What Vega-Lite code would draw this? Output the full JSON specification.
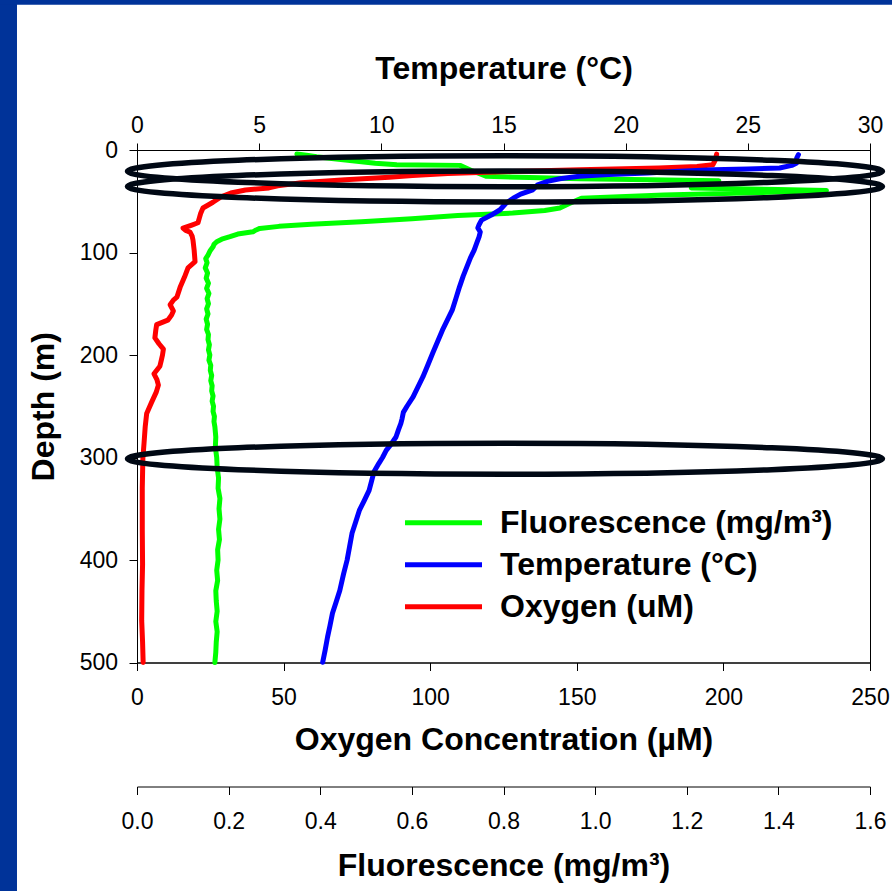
{
  "$schema": "https://vega.github.io/schema/vega-lite/v6.json",
  "width": 733,
  "height": 512.5,
  "autosize": {"type": "none"},
  "padding": {"left": 137, "top": 150, "right": 22, "bottom": 228.5},
  "background": "white",
  "config": {
    "font": "Liberation Sans",
    "view": {"stroke": "black", "strokeWidth": 1},
    "axis": {
      "domainColor": "black", "tickColor": "black", "labelColor": "black", "titleColor": "black",
      "labelFont": "Liberation Sans", "titleFont": "Liberation Sans",
      "labelFontSize": 23, "titleFontSize": 32, "titleFontWeight": "bold",
      "tickSize": 8, "grid": false, "domainWidth": 1, "tickWidth": 1,
      "labelFlush": false, "labelOverlap": false
    },
    "legend": {
      "labelFont": "Liberation Sans", "labelFontSize": 32, "labelFontWeight": "bold", "labelColor": "black",
      "symbolType": "stroke", "symbolSize": 5929, "symbolStrokeWidth": 5, "clipHeight": 32,
      "rowPadding": 10, "labelOffset": 15.5, "padding": 0, "labelLimit": 600
    }
  },
  "datasets": {
    "oxy": [
      {"depth": 4, "oxygen": 197.7}, {"depth": 10, "oxygen": 197.2}, {"depth": 14.4, "oxygen": 196.4},
      {"depth": 16, "oxygen": 191}, {"depth": 17.5, "oxygen": 178}, {"depth": 19.2, "oxygen": 151},
      {"depth": 21, "oxygen": 128}, {"depth": 23, "oxygen": 106}, {"depth": 25, "oxygen": 94},
      {"depth": 26.7, "oxygen": 86}, {"depth": 29, "oxygen": 71}, {"depth": 32, "oxygen": 56},
      {"depth": 35, "oxygen": 48}, {"depth": 37, "oxygen": 45}, {"depth": 39, "oxygen": 37},
      {"depth": 42, "oxygen": 32}, {"depth": 46, "oxygen": 28.5}, {"depth": 51, "oxygen": 25.9},
      {"depth": 56.6, "oxygen": 22.5}, {"depth": 62, "oxygen": 21.7}, {"depth": 66, "oxygen": 21.3},
      {"depth": 71, "oxygen": 20.8}, {"depth": 73.2, "oxygen": 18.7}, {"depth": 76.2, "oxygen": 15.7},
      {"depth": 78.5, "oxygen": 16.6}, {"depth": 80.1, "oxygen": 18.1}, {"depth": 84, "oxygen": 18.8},
      {"depth": 88, "oxygen": 19.1}, {"depth": 98, "oxygen": 19.5}, {"depth": 109, "oxygen": 19.8},
      {"depth": 115, "oxygen": 17.4}, {"depth": 124, "oxygen": 16.2}, {"depth": 134, "oxygen": 14.7},
      {"depth": 143.6, "oxygen": 13.6}, {"depth": 146.5, "oxygen": 12.4}, {"depth": 151, "oxygen": 11.3},
      {"depth": 157, "oxygen": 12.4}, {"depth": 161, "oxygen": 11.8}, {"depth": 166, "oxygen": 10.5},
      {"depth": 170.4, "oxygen": 6.7}, {"depth": 176, "oxygen": 6.4}, {"depth": 183.3, "oxygen": 6.1},
      {"depth": 189, "oxygen": 7.5}, {"depth": 194.3, "oxygen": 9.0}, {"depth": 200, "oxygen": 8.7},
      {"depth": 205, "oxygen": 8.3}, {"depth": 211, "oxygen": 7.8}, {"depth": 218.3, "oxygen": 5.8},
      {"depth": 224, "oxygen": 6.8}, {"depth": 229.3, "oxygen": 7.3}, {"depth": 236, "oxygen": 6.6},
      {"depth": 246, "oxygen": 5.0}, {"depth": 257, "oxygen": 3.3}, {"depth": 270, "oxygen": 2.8},
      {"depth": 286, "oxygen": 2.4}, {"depth": 300.8, "oxygen": 2.0}, {"depth": 330, "oxygen": 1.8},
      {"depth": 370, "oxygen": 1.8}, {"depth": 404, "oxygen": 1.9}, {"depth": 430, "oxygen": 1.7},
      {"depth": 459, "oxygen": 1.6}, {"depth": 480, "oxygen": 1.9}, {"depth": 500, "oxygen": 2.1}
    ],
    "temp": [
      {"depth": 4.6, "temperature": 27.07}, {"depth": 8, "temperature": 27.0}, {"depth": 12.7, "temperature": 27.0},
      {"depth": 15, "temperature": 26.8}, {"depth": 17.6, "temperature": 26.3}, {"depth": 18.5, "temperature": 25.0},
      {"depth": 19.2, "temperature": 23.6}, {"depth": 21, "temperature": 22.0}, {"depth": 22.5, "temperature": 20.9},
      {"depth": 24, "temperature": 19.3}, {"depth": 25.7, "temperature": 18.1}, {"depth": 28, "temperature": 17.3},
      {"depth": 30.6, "temperature": 16.8}, {"depth": 34, "temperature": 16.4}, {"depth": 38.8, "temperature": 16.2},
      {"depth": 43, "temperature": 15.7}, {"depth": 47, "temperature": 15.4}, {"depth": 52, "temperature": 15.1},
      {"depth": 58.3, "temperature": 14.86}, {"depth": 63.5, "temperature": 14.5}, {"depth": 68.4, "temperature": 14.1},
      {"depth": 72.9, "temperature": 14.0}, {"depth": 76, "temperature": 13.95}, {"depth": 80, "temperature": 14.05},
      {"depth": 84.7, "temperature": 14.0}, {"depth": 91, "temperature": 13.9}, {"depth": 97.7, "temperature": 13.8},
      {"depth": 105, "temperature": 13.65}, {"depth": 114, "temperature": 13.5}, {"depth": 123, "temperature": 13.35},
      {"depth": 133.5, "temperature": 13.2}, {"depth": 145, "temperature": 13.05}, {"depth": 156.3, "temperature": 12.9},
      {"depth": 166, "temperature": 12.7}, {"depth": 175.8, "temperature": 12.5}, {"depth": 187, "temperature": 12.3},
      {"depth": 198.3, "temperature": 12.1}, {"depth": 210, "temperature": 11.9}, {"depth": 221.4, "temperature": 11.7},
      {"depth": 231, "temperature": 11.5}, {"depth": 240.9, "temperature": 11.3}, {"depth": 250, "temperature": 11.05},
      {"depth": 256, "temperature": 10.9}, {"depth": 262, "temperature": 10.85}, {"depth": 266.6, "temperature": 10.8},
      {"depth": 273, "temperature": 10.7}, {"depth": 280, "temperature": 10.6}, {"depth": 287, "temperature": 10.4},
      {"depth": 293, "temperature": 10.2}, {"depth": 300, "temperature": 10.05}, {"depth": 305.7, "temperature": 9.9},
      {"depth": 314, "temperature": 9.7}, {"depth": 323, "temperature": 9.6}, {"depth": 332, "temperature": 9.5},
      {"depth": 342, "temperature": 9.3}, {"depth": 351.6, "temperature": 9.1}, {"depth": 363, "temperature": 8.95},
      {"depth": 374, "temperature": 8.8}, {"depth": 387, "temperature": 8.7}, {"depth": 400, "temperature": 8.6},
      {"depth": 414, "temperature": 8.45}, {"depth": 429.7, "temperature": 8.3}, {"depth": 441, "temperature": 8.15},
      {"depth": 452, "temperature": 8.0}, {"depth": 464, "temperature": 7.9}, {"depth": 475, "temperature": 7.8},
      {"depth": 488, "temperature": 7.7}, {"depth": 499.7, "temperature": 7.6}
    ],
    "fluor": [
      {"depth": 3.9, "fluorescence": 0.349}, {"depth": 5, "fluorescence": 0.37}, {"depth": 6.5, "fluorescence": 0.392},
      {"depth": 8.5, "fluorescence": 0.43}, {"depth": 11, "fluorescence": 0.48}, {"depth": 13, "fluorescence": 0.52},
      {"depth": 14.4, "fluorescence": 0.567}, {"depth": 15, "fluorescence": 0.705}, {"depth": 20, "fluorescence": 0.73},
      {"depth": 25.7, "fluorescence": 0.763}, {"depth": 27, "fluorescence": 0.88}, {"depth": 28, "fluorescence": 0.967},
      {"depth": 30, "fluorescence": 1.27}, {"depth": 35, "fluorescence": 1.22}, {"depth": 37, "fluorescence": 1.21},
      {"depth": 38.5, "fluorescence": 1.4}, {"depth": 39.5, "fluorescence": 1.505}, {"depth": 41, "fluorescence": 1.4},
      {"depth": 44, "fluorescence": 1.15}, {"depth": 47, "fluorescence": 0.97}, {"depth": 52, "fluorescence": 0.945},
      {"depth": 56.6, "fluorescence": 0.923}, {"depth": 59, "fluorescence": 0.89}, {"depth": 61.5, "fluorescence": 0.82},
      {"depth": 64, "fluorescence": 0.7}, {"depth": 67, "fluorescence": 0.6}, {"depth": 70, "fluorescence": 0.49},
      {"depth": 72.5, "fluorescence": 0.38}, {"depth": 74.5, "fluorescence": 0.31}, {"depth": 76.5, "fluorescence": 0.268},
      {"depth": 78, "fluorescence": 0.26}, {"depth": 79.8, "fluorescence": 0.253}, {"depth": 82, "fluorescence": 0.22},
      {"depth": 84.6, "fluorescence": 0.203}, {"depth": 87, "fluorescence": 0.185}, {"depth": 89.5, "fluorescence": 0.174},
      {"depth": 92, "fluorescence": 0.168}, {"depth": 94.4, "fluorescence": 0.166}, {"depth": 98, "fluorescence": 0.16},
      {"depth": 102.5, "fluorescence": 0.155}, {"depth": 106, "fluorescence": 0.15}, {"depth": 110, "fluorescence": 0.153},
      {"depth": 115, "fluorescence": 0.149}, {"depth": 120, "fluorescence": 0.154}, {"depth": 125, "fluorescence": 0.151},
      {"depth": 130, "fluorescence": 0.156}, {"depth": 135, "fluorescence": 0.152}, {"depth": 140, "fluorescence": 0.157},
      {"depth": 145, "fluorescence": 0.153}, {"depth": 150, "fluorescence": 0.156}, {"depth": 155, "fluorescence": 0.152},
      {"depth": 160, "fluorescence": 0.155}, {"depth": 165, "fluorescence": 0.151}, {"depth": 170, "fluorescence": 0.154},
      {"depth": 175, "fluorescence": 0.152}, {"depth": 180, "fluorescence": 0.156}, {"depth": 185, "fluorescence": 0.155},
      {"depth": 190, "fluorescence": 0.158}, {"depth": 195, "fluorescence": 0.156}, {"depth": 200, "fluorescence": 0.159},
      {"depth": 205, "fluorescence": 0.157}, {"depth": 210, "fluorescence": 0.161}, {"depth": 215, "fluorescence": 0.16},
      {"depth": 220, "fluorescence": 0.163}, {"depth": 225, "fluorescence": 0.161}, {"depth": 230, "fluorescence": 0.164},
      {"depth": 235, "fluorescence": 0.163}, {"depth": 240, "fluorescence": 0.166}, {"depth": 245, "fluorescence": 0.164},
      {"depth": 250, "fluorescence": 0.167}, {"depth": 255, "fluorescence": 0.166}, {"depth": 260, "fluorescence": 0.169},
      {"depth": 265, "fluorescence": 0.168}, {"depth": 270, "fluorescence": 0.17}, {"depth": 280, "fluorescence": 0.172},
      {"depth": 290, "fluorescence": 0.171}, {"depth": 300, "fluorescence": 0.174}, {"depth": 310, "fluorescence": 0.175},
      {"depth": 320, "fluorescence": 0.178}, {"depth": 330, "fluorescence": 0.177}, {"depth": 340, "fluorescence": 0.181},
      {"depth": 350, "fluorescence": 0.179}, {"depth": 360, "fluorescence": 0.181}, {"depth": 370, "fluorescence": 0.178},
      {"depth": 380, "fluorescence": 0.18}, {"depth": 390, "fluorescence": 0.176}, {"depth": 400, "fluorescence": 0.177},
      {"depth": 410, "fluorescence": 0.174}, {"depth": 420, "fluorescence": 0.176}, {"depth": 430, "fluorescence": 0.172},
      {"depth": 440, "fluorescence": 0.173}, {"depth": 450, "fluorescence": 0.175}, {"depth": 460, "fluorescence": 0.172},
      {"depth": 470, "fluorescence": 0.175}, {"depth": 480, "fluorescence": 0.173}, {"depth": 490, "fluorescence": 0.172},
      {"depth": 500, "fluorescence": 0.17}
    ],
    "ellipses": [
      {"oxygen": 125.5, "depth": 20.7},
      {"oxygen": 125.5, "depth": 35.6},
      {"oxygen": 125.5, "depth": 301.2}
    ]
  },
  "layer": [
    {
      "data": {"values": [{}]},
      "mark": {"type": "rect", "fill": "#003399"},
      "encoding": {
        "x": {"datum": -60, "type": "quantitative", "scale": {"domain": [0, 250], "nice": false}, "axis": null},
        "x2": {"datum": -40.93},
        "y": {"datum": -200, "type": "quantitative", "scale": {"domain": [0, 500], "reverse": true, "nice": false},
              "axis": {"title": "Depth (m)", "values": [0, 100, 200, 300, 400, 500], "labelPadding": 11.5, "titlePadding": 18.6}},
        "y2": {"datum": 900}
      }
    },
    {
      "data": {"values": [{}]},
      "mark": {"type": "rect", "fill": "#003399"},
      "encoding": {
        "x": {"datum": -60, "type": "quantitative", "scale": {"domain": [0, 250], "nice": false}, "axis": null},
        "x2": {"datum": 300},
        "y": {"datum": -200, "type": "quantitative", "scale": {"domain": [0, 500], "reverse": true, "nice": false},
              "axis": {"title": "Depth (m)", "values": [0, 100, 200, 300, 400, 500], "labelPadding": 11.5, "titlePadding": 18.6}},
        "y2": {"datum": -141.6}
      }
    },
    {
      "data": {"name": "fluor"},
      "mark": {"type": "line", "strokeWidth": 5, "strokeCap": "round", "strokeJoin": "round"},
      "encoding": {
        "x": {"field": "fluorescence", "type": "quantitative", "scale": {"domain": [0, 1.6], "nice": false},
              "axis": {"orient": "bottom", "offset": 124, "values": [0, 0.2, 0.4, 0.6, 0.8, 1, 1.2, 1.4, 1.6], "format": ".1f",
                       "labelFontSize": 23, "labelPadding": 16, "titlePadding": 17, "title": "Fluorescence (mg/m³)"}},
        "y": {"field": "depth", "type": "quantitative", "scale": {"domain": [0, 500], "reverse": true, "nice": false},
              "axis": {"title": "Depth (m)", "values": [0, 100, 200, 300, 400, 500], "labelPadding": 11.5, "titlePadding": 18.6}},
        "order": {"field": "depth", "type": "quantitative"},
        "color": {"datum": "Fluorescence (mg/m³)", "type": "nominal",
                  "scale": {"domain": ["Fluorescence (mg/m³)", "Temperature (°C)", "Oxygen (uM)"], "range": ["#00ff00", "#0000ff", "#ff0000"]},
                  "legend": {"title": null, "orient": "none", "legendX": 265.5, "legendY": 356.7}}
      }
    },
    {
      "data": {"name": "oxy"},
      "mark": {"type": "line", "strokeWidth": 5, "strokeCap": "round", "strokeJoin": "round"},
      "encoding": {
        "x": {"field": "oxygen", "type": "quantitative", "scale": {"domain": [0, 250], "nice": false},
              "axis": {"orient": "bottom", "values": [0, 50, 100, 150, 200, 250], "labelPadding": 16, "titlePadding": 15,
                       "title": "Oxygen Concentration (µM)"}},
        "y": {"field": "depth", "type": "quantitative", "scale": {"domain": [0, 500], "reverse": true, "nice": false},
              "axis": {"title": "Depth (m)", "values": [0, 100, 200, 300, 400, 500], "labelPadding": 11.5, "titlePadding": 18.6}},
        "order": {"field": "depth", "type": "quantitative"},
        "color": {"datum": "Oxygen (uM)", "type": "nominal",
                  "scale": {"domain": ["Fluorescence (mg/m³)", "Temperature (°C)", "Oxygen (uM)"], "range": ["#00ff00", "#0000ff", "#ff0000"]},
                  "legend": {"title": null, "orient": "none", "legendX": 265.5, "legendY": 356.7}}
      }
    },
    {
      "data": {"name": "temp"},
      "mark": {"type": "line", "strokeWidth": 5, "strokeCap": "round", "strokeJoin": "round"},
      "encoding": {
        "x": {"field": "temperature", "type": "quantitative", "scale": {"domain": [0, 30], "nice": false},
              "axis": {"orient": "top", "values": [0, 5, 10, 15, 20, 25, 30], "labelPadding": 5.5, "titlePadding": 29,
                       "tickSize": 7, "title": "Temperature (°C)"}},
        "y": {"field": "depth", "type": "quantitative", "scale": {"domain": [0, 500], "reverse": true, "nice": false},
              "axis": {"title": "Depth (m)", "values": [0, 100, 200, 300, 400, 500], "labelPadding": 11.5, "titlePadding": 18.6}},
        "order": {"field": "depth", "type": "quantitative"},
        "color": {"datum": "Temperature (°C)", "type": "nominal",
                  "scale": {"domain": ["Fluorescence (mg/m³)", "Temperature (°C)", "Oxygen (uM)"], "range": ["#00ff00", "#0000ff", "#ff0000"]},
                  "legend": {"title": null, "orient": "none", "legendX": 265.5, "legendY": 356.7}}
      }
    },
    {
      "data": {"name": "ellipses"},
      "mark": {"type": "point",
               "shape": "M-1,0C-1,-0.02264,-0.5523,-0.041,0,-0.041C0.5523,-0.041,1,-0.02264,1,0C1,0.02264,0.5523,0.041,0,0.041C-0.5523,0.041,-1,0.02264,-1,0Z",
               "size": 570025, "filled": false, "stroke": "#000814", "strokeWidth": 5.5, "opacity": 1},
      "encoding": {
        "x": {"field": "oxygen", "type": "quantitative", "scale": {"domain": [0, 250], "nice": false}, "axis": null},
        "y": {"field": "depth", "type": "quantitative", "scale": {"domain": [0, 500], "reverse": true, "nice": false},
              "axis": {"title": "Depth (m)", "values": [0, 100, 200, 300, 400, 500], "labelPadding": 11.5, "titlePadding": 18.6}}
      }
    }
  ],
  "resolve": {"scale": {"x": "independent"}, "axis": {"x": "independent"}}
}
